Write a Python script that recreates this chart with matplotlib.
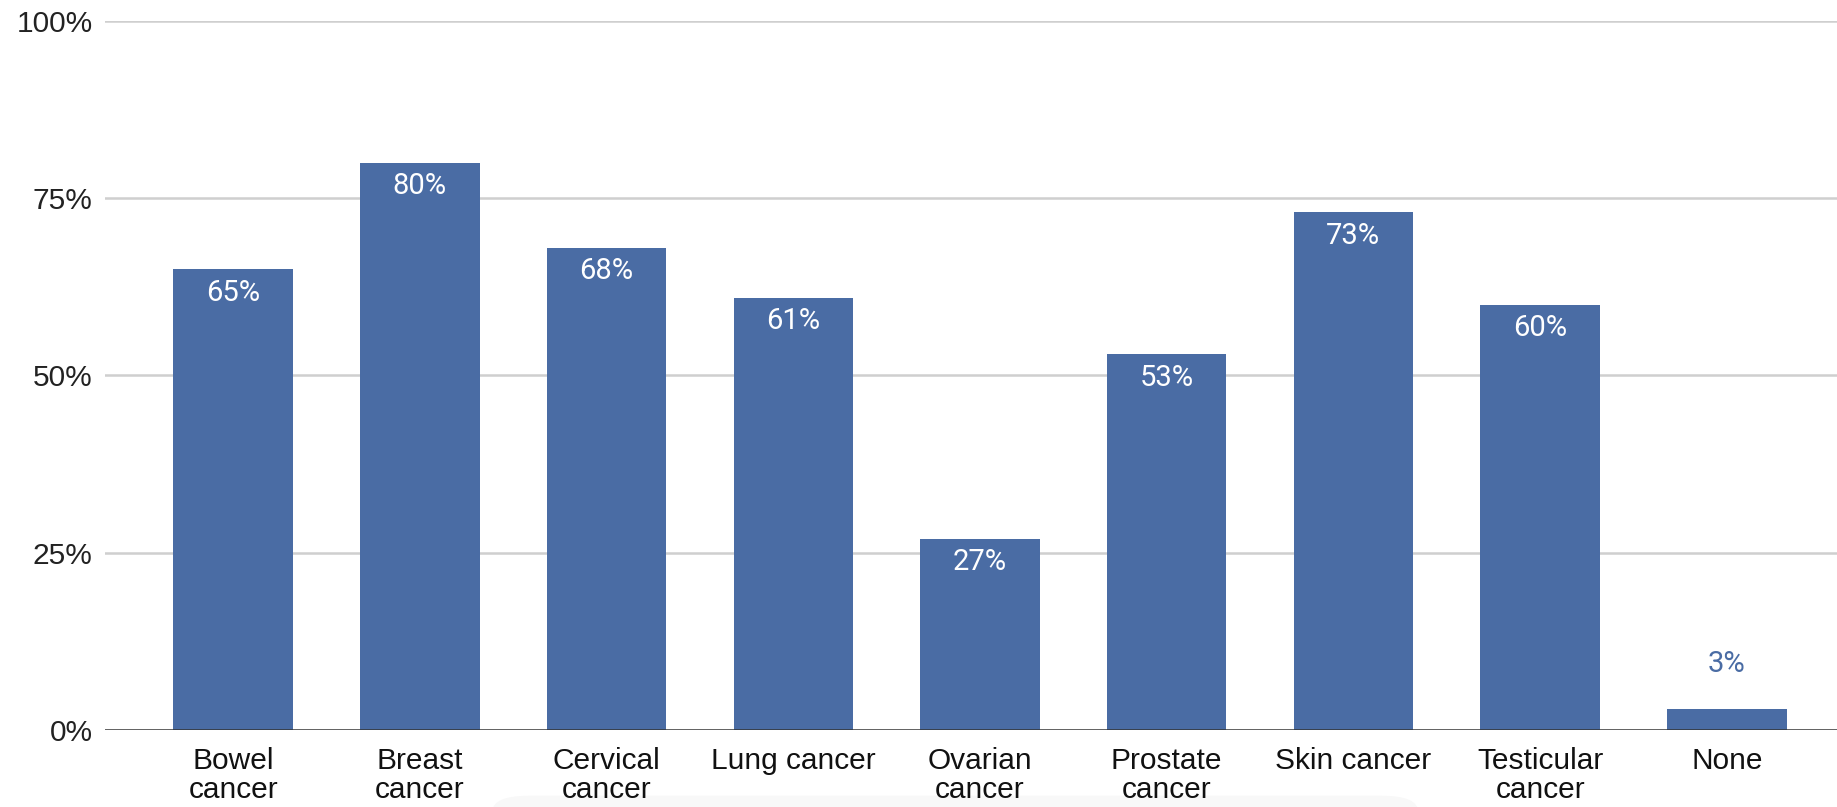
import matplotlib.pyplot as plt
import numpy as np
from matplotlib.patches import FancyBboxPatch

# Share of respondents aware of each cancer type
categories = ["Bowel\ncancer", "Breast\ncancer", "Cervical\ncancer", "Lung cancer",
              "Ovarian\ncancer", "Prostate\ncancer", "Skin cancer",
              "Testicular\ncancer", "None"]
values = [65, 80, 68, 61, 27, 53, 73, 60, 3]
y_ticks = [0, 25, 50, 75, 100]
y_tick_labels = ["0%", "25%", "50%", "75%", "100%"]

bar_color = "#4a6ca4"
axis_font = "Liberation Sans"
label_font = "Roboto"

fig = plt.figure(figsize=(18.37, 8.07), dpi=100)
ax = fig.add_axes([0.0572, 0.0954, 0.9428, 0.8786])
ax.patch.set_alpha(0)

x = np.arange(len(categories))
ax.set_xlim(-0.686, 8.59)
ax.set_ylim(0, 100)

bars = ax.bar(x, values, width=0.64, color=bar_color, zorder=3)

# value labels: inside the bar near the top, or above it when too short
for xi, v in zip(x, values):
    if v >= 10:
        ax.annotate(f"{v}%", (xi, v), xytext=(0, -17), textcoords="offset points",
                    ha="center", va="center", color="white", fontsize=21,
                    family=label_font, zorder=4)
    else:
        ax.annotate(f"{v}%", (xi, v), xytext=(0, 32), textcoords="offset points",
                    ha="center", va="center", color=bar_color, fontsize=21,
                    family=label_font, zorder=4)

# horizontal gridlines and baseline
for t in y_ticks[1:]:
    ax.axhline(t, color="#cfcfcf", lw=1.8, zorder=1)
ax.axhline(0, color="#333333", lw=1.8, zorder=5)

ax.set_yticks(y_ticks)
ax.set_yticklabels(y_tick_labels, family=axis_font, fontsize=21.5, color="#222222")
ax.set_xticks(x)
ax.set_xticklabels(categories, family=axis_font, fontsize=21.5, color="#111111",
                   linespacing=1.05, va="top")
ax.tick_params(axis="y", length=0, pad=9)
ax.tick_params(axis="x", length=0, pad=12)

for s in ax.spines.values():
    s.set_visible(False)

# faint grey panel peeking in along the lower edge, behind everything
panel = FancyBboxPatch((0.268, -0.05), 0.504, 0.064,
                       boxstyle="round,pad=0,rounding_size=0.02",
                       transform=fig.transFigure, fc="#f8f8f8",
                       ec="none", zorder=-5)
fig.patches.append(panel)

fig.savefig("out.png", dpi=100)
